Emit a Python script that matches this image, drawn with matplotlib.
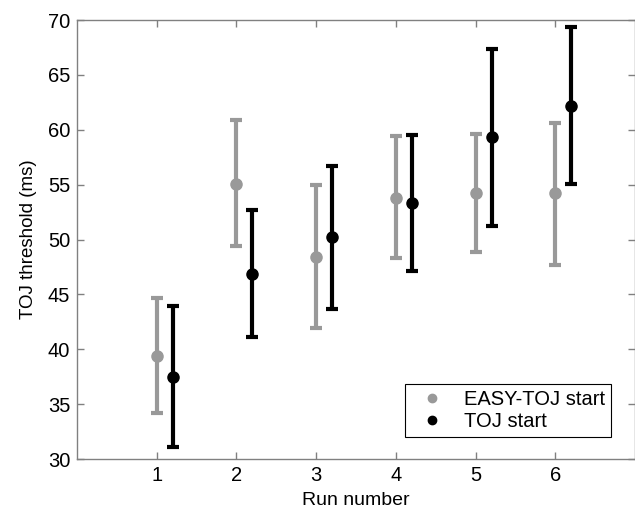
import numpy as np
import matplotlib.pyplot as plt

plt.rcParams['font.family'] = ['Liberation Sans', 'DejaVu Sans']

runs = np.array([1, 2, 3, 4, 5, 6])

# EASY-TOJ start group
easy_mean = [39.4, 55.1, 48.4, 53.8, 54.2, 54.2]
easy_upper = [44.7, 60.9, 55.0, 59.4, 59.6, 60.6]
easy_lower = [34.2, 49.4, 41.9, 48.3, 48.9, 47.7]

# TOJ start group
toj_mean = [37.5, 46.9, 50.2, 53.3, 59.3, 62.2]
toj_upper = [43.95, 52.7, 56.7, 59.5, 67.4, 69.4]
toj_lower = [31.1, 41.1, 43.7, 47.1, 51.2, 55.1]

gray = '#999999'

fig = plt.figure(figsize=(6.35, 5.12), dpi=100)
ax = fig.add_axes([0.1213, 0.1035, 0.8787, 0.8574])

em = np.array(easy_mean)
tm = np.array(toj_mean)
ax.errorbar(runs, em, yerr=[em - np.array(easy_lower), np.array(easy_upper) - em],
            fmt='o', color=gray, ms=8, elinewidth=3, capsize=4, capthick=3)
ax.errorbar(runs + 0.2, tm, yerr=[tm - np.array(toj_lower), np.array(toj_upper) - tm],
            fmt='o', color='black', ms=8, elinewidth=3, capsize=4, capthick=3)

# legend shows only dots
ax.plot([], [], 'o', color=gray, ms=6, label='EASY-TOJ start')
ax.plot([], [], 'o', color='black', ms=6, label='TOJ start')
h, l = ax.get_legend_handles_labels()
leg = ax.legend(h[-2:], l[-2:], loc='lower right', bbox_to_anchor=(0.957, 0.05),
                borderaxespad=0, fontsize=14.5, fancybox=False, framealpha=1,
                edgecolor='black', handletextpad=0.6, borderpad=0.3,
                labelspacing=0.15)
leg.get_frame().set_linewidth(0.8)

ax.set_xlim(0, 7)
ax.set_ylim(30, 70)
ax.set_xticks(runs)
ax.set_yticks(np.arange(30, 71, 5))
ax.tick_params(direction='in', top=True, right=True, length=5, width=1,
               color='#808080', labelsize=14.5, pad=5)
for s in ax.spines.values():
    s.set_color('#808080')
    s.set_linewidth(1)

ax.set_xlabel('Run number', fontsize=14, labelpad=5)
ax.set_ylabel('TOJ threshold (ms)', fontsize=13.5, labelpad=8)

fig.savefig('out.png', dpi=100)
